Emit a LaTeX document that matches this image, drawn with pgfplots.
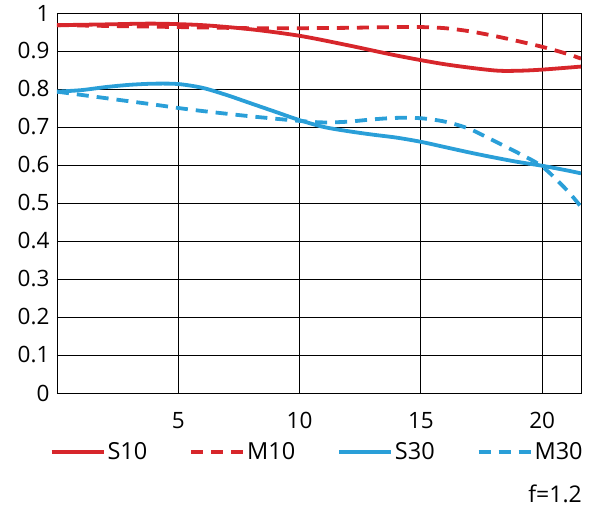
\documentclass[border=0pt]{standalone}
\usepackage{fontspec}
\setmainfont{Open Sans}
\usepackage{pgfplots}
\pgfplotsset{compat=1.18}
\definecolor{mtfred}{RGB}{215,38,43}
\definecolor{mtfblue}{RGB}{42,159,216}

\begin{document}
\begin{tikzpicture}
\begin{axis}[
    scale only axis,
    width=524pt, height=380pt,
    xmin=0, xmax=21.6,
    ymin=0, ymax=1,
    xtick={5,10,15,20},
    ytick={0,0.1,...,1.01},
    major tick length=0pt,
    grid=major,
    grid style={black, line width=0.8pt},
    axis line style={black, line width=0.8pt},
    /pgf/number format/assume math mode=true,
    yticklabel style={/pgf/number format/fixed, font=\fontsize{22.5}{25}\selectfont, xshift=-4pt},
    xticklabel style={font=\fontsize{22.5}{25}\selectfont, yshift=-16pt},
    legend columns=4,
    legend style={draw=none, fill=none, at={(-0.02,-0.155)}, anchor=west,
        font=\fontsize{23.5}{26}\selectfont,
        /tikz/every even column/.append style={column sep=40pt}},
    legend image code/.code={\draw[#1, line cap=butt] (0pt,0pt) -- (52pt,0pt);},
    every axis plot/.append style={line width=3.8pt, smooth, tension=0.5},
]
\addplot[mtfred] coordinates {
    (0,0.968) (2,0.970) (4,0.972) (6,0.968) (8,0.957) (10,0.940) (12,0.915)
    (14,0.888) (16,0.865) (18,0.849) (19,0.848) (20,0.851) (21.6,0.859)
};
\addlegendentry{S10}
\addplot[mtfred, dash pattern=on 12pt off 8pt] coordinates {
    (0,0.968) (2,0.966) (4,0.964) (6,0.962) (8,0.960) (10,0.960) (12,0.961)
    (14,0.963) (15,0.963) (16,0.960) (17,0.952) (18,0.940) (19,0.926)
    (20,0.911) (21,0.893) (21.6,0.880)
};
\addlegendentry{M10}
\addplot[mtfblue] coordinates {
    (0,0.793) (1,0.797) (2,0.805) (3,0.811) (4,0.814) (5,0.813) (6,0.803)
    (7,0.784) (8,0.762) (9,0.740) (10,0.718) (11,0.700) (12,0.689) (13,0.680)
    (14,0.672) (15,0.661) (16,0.647) (17,0.633) (18,0.620) (19,0.608)
    (20,0.598) (21,0.586) (21.6,0.578)
};
\addlegendentry{S30}
\addplot[mtfblue, dash pattern=on 12pt off 8pt] coordinates {
    (0,0.793) (2,0.776) (4,0.759) (5,0.750) (6,0.742) (8,0.728) (10,0.716)
    (11,0.712) (12,0.714) (13,0.720) (14,0.724) (15,0.723) (16,0.714)
    (17,0.695) (18,0.664) (19,0.632) (20,0.596) (21,0.535) (21.6,0.490)
};
\addlegendentry{M30}
\end{axis}
\node[anchor=base east, inner sep=0pt, font=\fontsize{23}{26}\selectfont] at (525pt,-109pt) {f=1.2};
\path[use as bounding box] (-57pt,-123pt) rectangle (537pt,393pt);
\end{tikzpicture}
\end{document}
